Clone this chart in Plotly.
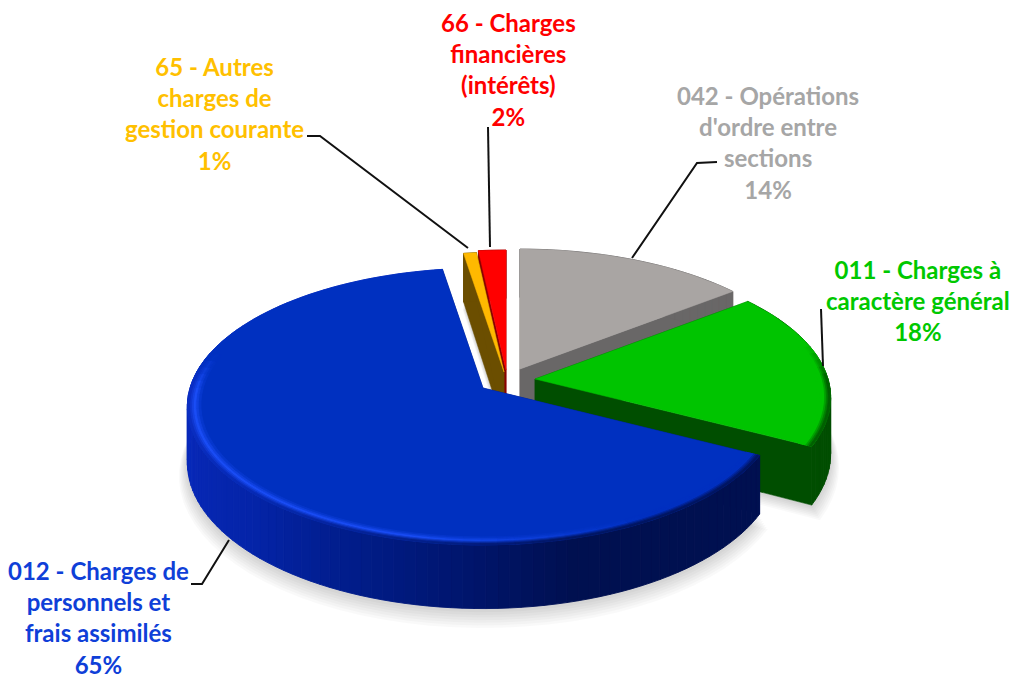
import math
import plotly.graph_objects as go

# ---- chart data (clockwise from the top) ----
codes = ["042", "011", "012", "65", "66"]
labels = [
    "042 - Opérations<br>d'ordre entre<br>sections",
    "011 - Charges à<br>caractère général",
    "012 - Charges de<br>personnels et<br>frais assimilés",
    "65 - Autres<br>charges de<br>gestion courante",
    "66 - Charges<br>financières<br>(intérêts)",
]
values = [14.4, 18.3, 64.8, 0.8, 1.7]

# ---- styling / geometry of the 3D projection ----
RX, RY, PERSP, DEPTH = 293, 136, 0.134, 55
apex = {"042": (520, 369), "011": (535, 379), "012": (483, 388), "65": (504, 372), "66": (506, 370)}
top_col = {"042": "#A9A5A3", "011": "#00C400", "012": "#0030C0", "65": "#FFB900", "66": "#FF0000"}
side_col = {"042": "#696767", "011": "#004E00", "012": "#001A70", "65": "#6B4E00", "66": "#8A0000"}
txt_col = {"042": "#A6A6A6", "011": "#00C800", "012": "#0F3FD8", "65": "#FFC000", "66": "#FF0000"}
txt_pos = {"042": (768, 142), "011": (918, 300), "012": (98, 617), "65": (214, 113), "66": (508, 69)}
draw_order = ["66", "65", "042", "011", "012"]
leaders = [
    ([307, 320, 468], [136, 136, 248]),
    ([488, 490], [127, 247]),
    ([632, 697, 717], [258, 163, 162]),
    ([821, 823], [309, 366]),
    ([229, 202, 191], [540, 584, 584]),
]

fig = go.Figure()


def hex2rgb(c):
    return tuple(int(c[i:i + 2], 16) for i in (1, 3, 5))


def blend(a, b, t):
    t = max(0.0, min(1.0, t))
    ra, rb = hex2rgb(a), hex2rgb(b)
    return "#%02x%02x%02x" % tuple(round(ra[i] + (rb[i] - ra[i]) * t) for i in range(3))


def pt(code, theta, r=1.0, down=0.0):
    ax, ay = apex[code]
    s = 1 / (1 + PERSP * r * math.cos(theta))
    return (ax + RX * r * math.sin(theta) * s,
            ay - RY * r * math.cos(theta) * s + down * (s if r > 0 else 1))


def poly(points, color, seam=1.4):
    fig.add_trace(go.Scatter(
        x=[p[0] for p in points] + [points[0][0]],
        y=[p[1] for p in points] + [points[0][1]],
        mode="lines", fill="toself", fillcolor=color,
        line=dict(color=color, width=seam), hoverinfo="skip", showlegend=False))


def arc(a, b, step=math.radians(1.5)):
    n = max(2, int(abs(b - a) / step) + 1)
    return [a + (b - a) * i / n for i in range(n + 1)]


def wall_color(code, th):
    deg = math.degrees(th) % 360
    if code == "012":
        stops = [(100, "#001050"), (165, "#001050"), (180, "#001468"), (196, "#001A80"),
                 (225, "#0424A8"), (255, "#0828B8"), (300, "#0A2CC0")]
        for (d0, c0), (d1, c1) in zip(stops, stops[1:]):
            if deg <= d1:
                return blend(c0, c1, (deg - d0) / (d1 - d0))
        return stops[-1][1]
    return side_col[code]


# cumulative angles come straight from the values
total = sum(values)
spans = {}
acc = 0
for code, v in zip(codes, values):
    spans[code] = (2 * math.pi * acc / total, 2 * math.pi * (acc + v) / total)
    acc += v

# soft shadow
for i in range(1, 8):
    for code in draw_order:
        a, b = spans[code]
        sc = 1 + 0.004 * i
        pts = [pt(code, 0, 0, DEPTH + 1 + i * 1.6)] + [pt(code, t, sc, DEPTH + 1 + i * 1.6) for t in arc(a, b, math.radians(4))]
        fig.add_trace(go.Scatter(
            x=[p[0] for p in pts] + [pts[0][0]], y=[p[1] for p in pts] + [pts[0][1]],
            mode="lines", fill="toself", fillcolor="rgba(0,0,0,0.022)",
            line=dict(width=0), hoverinfo="skip", showlegend=False))

for code in draw_order:
    a, b = spans[code]
    side = side_col[code]
    # cut faces
    for e in (a, b):
        poly([pt(code, 0, 0), pt(code, e), pt(code, e, 1, DEPTH), pt(code, 0, 0, DEPTH)], side, seam=0.5)
    # outer wall
    angs = arc(a, b, math.radians(2))
    for t0, t1 in zip(angs, angs[1:]):
        poly([pt(code, t0), pt(code, t1), pt(code, t1, 1, DEPTH), pt(code, t0, 1, DEPTH)], wall_color(code, (t0 + t1) / 2), seam=0.9)
    # top
    poly([pt(code, 0, 0)] + [pt(code, t) for t in arc(a, b)], top_col[code], seam=0.5)
    # bevel along the front of the rim
    if code in ("012", "011"):
        bright = "#1A4DF5" if code == "012" else "#00D000"
        radii = [0.955, 0.964, 0.972, 0.98, 0.986, 0.992, 1.0]
        angs_r = arc(a, b, math.radians(3))
        for j in range(6):
            for t0, t1 in zip(angs_r, angs_r[1:]):
                tm = (t0 + t1) / 2
                if math.cos(tm) > 0.25:
                    continue
                k = 0.7 - 1.4 * math.sin(tm)
                wc = wall_color(code, tm)
                hl = blend(top_col[code], bright, k)
                fade = min(1.0, (0.25 - math.cos(tm)) / 0.25)
                cols = [blend(top_col[code], hl, 0.25), blend(top_col[code], hl, 0.6), hl,
                        blend(hl, wc, 0.3), blend(hl, wc, 0.6), blend(hl, wc, 0.85)]
                poly([pt(code, t0, radii[j]), pt(code, t1, radii[j]),
                      pt(code, t1, radii[j + 1]), pt(code, t0, radii[j + 1])],
                     blend(top_col[code], cols[j], fade), seam=0.8)

# leader lines
for lx, ly in leaders:
    fig.add_trace(go.Scatter(x=lx, y=ly, mode="lines", line=dict(color="#111111", width=2),
                             hoverinfo="skip", showlegend=False))

# labels (percentages are rounded, as in the chart)
for code, lab, v in zip(codes, labels, values):
    x, y = txt_pos[code]
    fig.add_annotation(x=x, y=y, xref="x", yref="y", text=f"<b>{lab}<br>{max(1, round(v))}%</b>", showarrow=False,
                       align="center", xanchor="center", yanchor="middle",
                       font=dict(family="Lato, Carlito, sans-serif", size=24, color=txt_col[code]))

fig.update_layout(
    width=1014, height=680, margin=dict(l=0, r=0, t=0, b=0),
    paper_bgcolor="white", plot_bgcolor="white", showlegend=False,
    xaxis=dict(range=[0, 1014], visible=False, fixedrange=True),
    yaxis=dict(range=[680, 0], visible=False, fixedrange=True),
)
fig.write_html("out.html", config={"displayModeBar": False},
               post_script="document.body.style.margin='0';document.body.style.overflow='hidden';document.body.style.fontVariantLigatures='none';")
